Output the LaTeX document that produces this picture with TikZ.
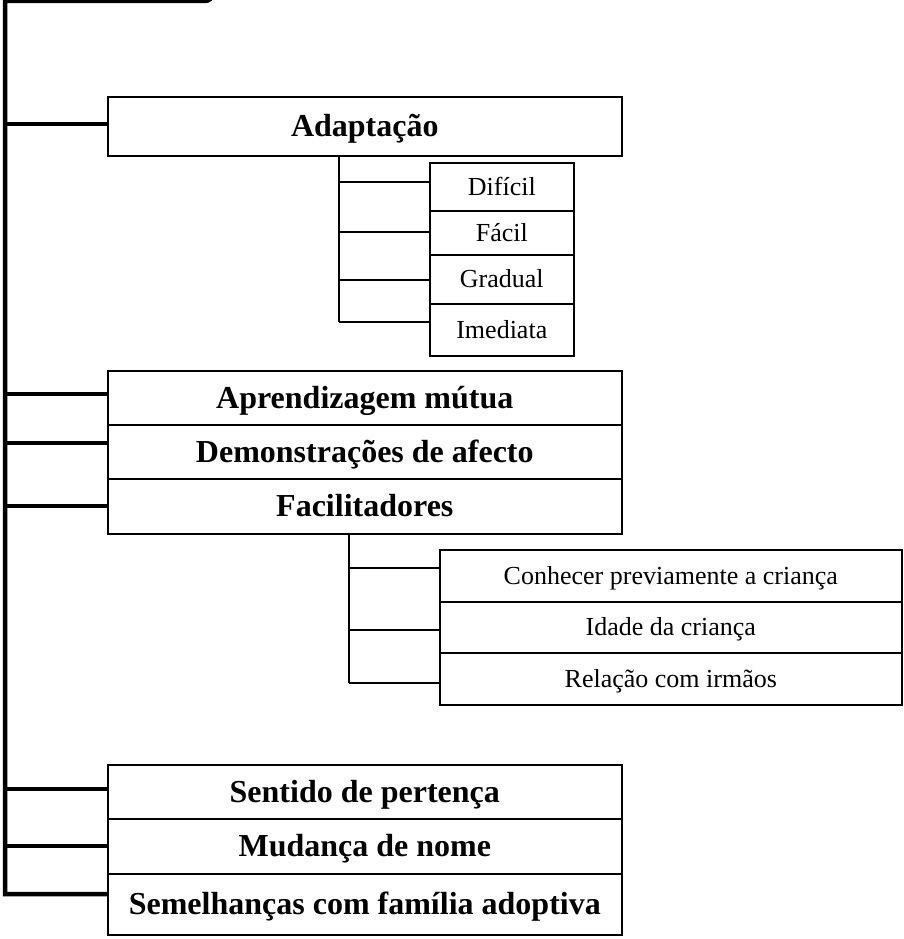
\documentclass[tikz,border=0pt]{standalone}
\usepackage{fontspec}
\setmainfont{Liberation Serif}
\begin{document}
\begin{tikzpicture}[x=1pt,y=-1pt,
  spine/.style={line width=4.5pt},
  twig/.style={line width=1.6pt},
  catbox/.style={draw, line width=1.6pt, anchor=north west, inner sep=0pt,
    text height=21pt, text depth=0pt,
    font=\fontsize{32}{38}\selectfont\bfseries, minimum width=514pt},
  subbox/.style={draw, line width=1.6pt, anchor=north west, inner sep=0pt,
    text height=17pt, text depth=0pt,
    font=\fontsize{26}{31}\selectfont}]
\useasboundingbox (0,0) rectangle (903,939);
\clip (0,0) rectangle (903,939);

% main categories
\node[catbox, minimum height=59pt] (adapt) at (107,96) {Adaptação};
\node[catbox, minimum height=54pt] (aprend) at (107,370) {Aprendizagem mútua};
\node[catbox, minimum height=54pt] (demo) at (107,424) {Demonstrações de afecto};
\node[catbox, minimum height=55pt] (facil) at (107,478) {Facilitadores};
\node[catbox, minimum height=54pt] (sentido) at (107,764) {Sentido de pertença};
\node[catbox, minimum height=55pt] (mudanca) at (107,818) {Mudança de nome};
\node[catbox, minimum height=61pt] (semel) at (107,873) {Semelhanças com família adoptiva};

% sub-categories of Adaptação
\node[subbox, minimum width=144pt, minimum height=48pt] (dificil) at (429,162) {Difícil};
\node[subbox, minimum width=144pt, minimum height=44pt] (facl) at (429,210) {Fácil};
\node[subbox, minimum width=144pt, minimum height=49pt] (gradual) at (429,254) {Gradual};
\node[subbox, minimum width=144pt, minimum height=52pt] (imed) at (429,303) {Imediata};

% sub-categories of Facilitadores
\node[subbox, minimum width=462pt, minimum height=52pt] (conhecer) at (439,549) {Conhecer previamente a criança};
\node[subbox, minimum width=462pt, minimum height=51pt] (idade) at (439,601) {Idade da criança};
\node[subbox, minimum width=462pt, minimum height=52pt] (irmaos) at (439,652) {Relação com irmãos};

% trunk, entering from the root box above
\coordinate (top) at (213,-30);
\coordinate (s1) at (5,124);
\coordinate (s2) at (5,394);
\coordinate (s3) at (5,443);
\coordinate (s4) at (5,506);
\coordinate (s5) at (5,789);
\coordinate (s6) at (5,846);
\coordinate (s7) at (5,894);
\draw[spine, line join=miter] (s7 -| semel.west) -- (s7) -- (5,1) -- (205,1)
  to[out=0,in=-90] (213,-7) -- (top);
\foreach \s/\n in {s1/adapt, s2/aprend, s3/demo, s4/facil, s5/sentido, s6/mudanca}
  \draw[spine] (\s) -- (\s -| \n.west);

% branch of Adaptação
\coordinate (a0) at (339,155);
\coordinate (a1) at (339,182);
\coordinate (a2) at (339,232);
\coordinate (a3) at (339,280);
\coordinate (a4) at (339,322);
\draw[twig] (a0) -- (a4);
\foreach \s/\n in {a1/dificil, a2/facl, a3/gradual, a4/imed}
  \draw[twig] (\s) -- (\s -| \n.west);

% branch of Facilitadores
\coordinate (f0) at (349,533);
\coordinate (f1) at (349,568);
\coordinate (f2) at (349,630);
\coordinate (f3) at (349,683);
\draw[twig] (f0) -- (f3);
\foreach \s/\n in {f1/conhecer, f2/idade, f3/irmaos}
  \draw[twig] (\s) -- (\s -| \n.west);
\end{tikzpicture}
\end{document}
